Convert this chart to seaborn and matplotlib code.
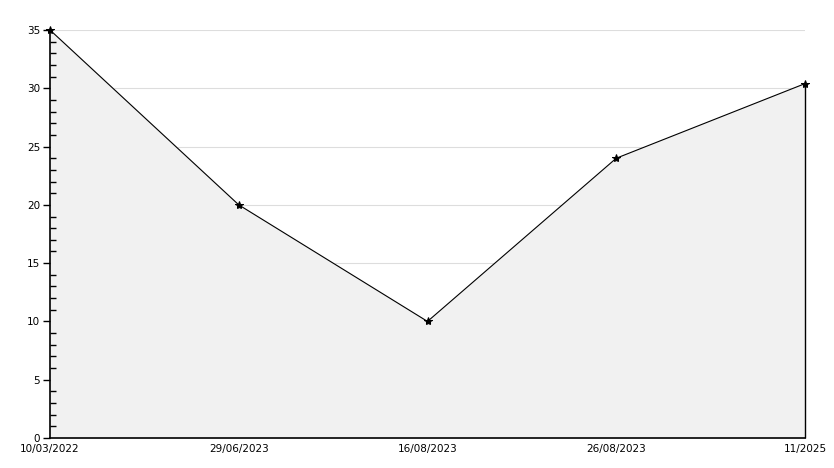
import numpy as np
import matplotlib.pyplot as plt
import seaborn as sns
from matplotlib.ticker import MultipleLocator

dates = ["10/03/2022", "29/06/2023", "16/08/2023", "26/08/2023", "11/2025"]
values = [35, 20, 10, 24, 30.4]
grid_levels = [5, 10, 15, 20, 25, 30, 35]

sns.set_style("white")
plt.rcParams['font.family'] = ['DejaVu Sans']

fig = plt.figure(figsize=(8.34, 4.68), dpi=100)
ax = fig.add_axes([50 / 834, 30 / 468, 755 / 834, 408 / 468])

x = np.arange(len(dates))
# grid sits under the filled area
for g in grid_levels:
    ax.axhline(g, color="#dddddd", linewidth=0.8, zorder=0)
ax.fill_between(x, values, 0, color="#f1f1f1", zorder=1)
ax.vlines(x[-1], 0, values[-1], color="black", linewidth=1.0, zorder=2, clip_on=False)
sns.lineplot(x=x, y=values, ax=ax, color="black", linewidth=0.8,
             marker="*", markersize=6, markeredgecolor="black", zorder=3, clip_on=False)

ax.set_xlim(0, len(dates) - 1)
ax.set_ylim(0, 35)
ax.yaxis.set_major_locator(MultipleLocator(5))
ax.yaxis.set_minor_locator(MultipleLocator(1))
ax.grid(False)
ax.set_axisbelow(False)

ax.set_xticks(x)
ax.set_xticklabels(dates)
for s in ["top", "right"]:
    ax.spines[s].set_visible(False)
for s in ["left", "bottom"]:
    ax.spines[s].set_color("black")
    ax.spines[s].set_linewidth(1.2)

ax.tick_params(axis="x", length=0, labelsize=7.5, pad=4, labelcolor="black")
ax.tick_params(axis="y", which="major", direction="out", length=5, width=1,
               labelsize=7.5, left=True, pad=2, color="black", labelcolor="black")
ax.tick_params(axis="y", which="minor", direction="in", length=4, width=1,
               left=True, color="black")

fig.savefig("out.png", dpi=100)
